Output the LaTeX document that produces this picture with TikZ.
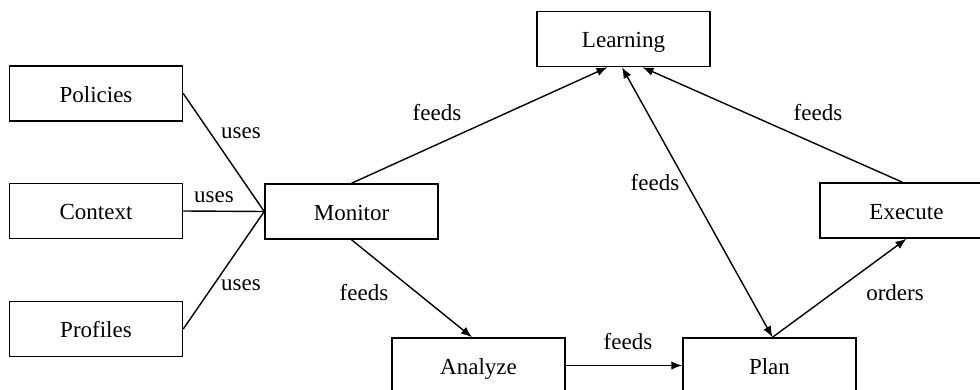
\documentclass[tikz,border=0pt]{standalone}
\usepackage{fontspec}
\setmainfont{Liberation Serif}
\newfontfamily\boxfont{Liberation Serif}
\usetikzlibrary{arrows.meta}
\begin{document}
\begin{tikzpicture}[x=1pt,y=-1pt,
  box/.style={draw, line width=1.5pt, rectangle, minimum width=173pt, minimum height=55pt, inner sep=0pt, text height=18pt, text depth=0.5pt},
  link/.style={line width=1.4pt},
  flow/.style={link, -{Latex[length=11pt,width=8.5pt]}},
  both/.style={link, {Latex[length=11pt,width=8.5pt]}-{Latex[length=11pt,width=8.5pt]}},
  lbl/.style={inner sep=0pt},
  every node/.style={font=\boxfont\fontsize{23}{27}\selectfont}]
\useasboundingbox (0,0) rectangle (980,390);
\clip (0,0) rectangle (980,390);

% boxes
\node[box] (policies) at (96,93.5) {Policies};
\node[box] (context)  at (96,211)  {Context};
\node[box] (profiles) at (96,329)  {Profiles};
\node[box] (monitor)  at (351.5,211.5) {Monitor};
\node[box] (learning) at (623.5,39) {Learning};
\node[box] (execute)  at (906.5,210.5) {Execute};
\node[box] (analyze)  at (478.5,365.5) {Analyze};
\node[box] (plan)     at (769.5,365.5) {Plan};

% inputs used by the monitor
\draw[link] (policies.east) -- (monitor.west);
\draw[link] (context.east)  -- (monitor.west);
\draw[link] (profiles.east) -- (monitor.west);
\node[lbl] (u1) at (241,133) {uses};
\node[lbl] (u2) at (214,197) {uses};
\node[lbl] (u3) at (241,285) {uses};

% feedback loop
\draw[flow] (monitor.north) -- ([xshift=-16pt]learning.south);
\draw[flow] (monitor.south) -- ([xshift=-6.5pt]analyze.north);
\draw[flow] (analyze.east) -- (plan.west);
\draw[both] ([xshift=-1.5pt]learning.south) -- ([xshift=3pt]plan.north);
\draw[flow] ([xshift=3pt]plan.north) -- (execute.south);
\draw[flow] ([xshift=-4pt]execute.north) -- ([xshift=19pt]learning.south);

\node[lbl] (f1) at (437,113) {feeds};
\node[lbl] (f2) at (364,293) {feeds};
\node[lbl] (f3) at (628,342) {feeds};
\node[lbl] (f4) at (655,183) {feeds};
\node[lbl] (f5) at (818,113) {feeds};
\node[lbl] (o1) at (895,293) {orders};
\end{tikzpicture}
\end{document}
